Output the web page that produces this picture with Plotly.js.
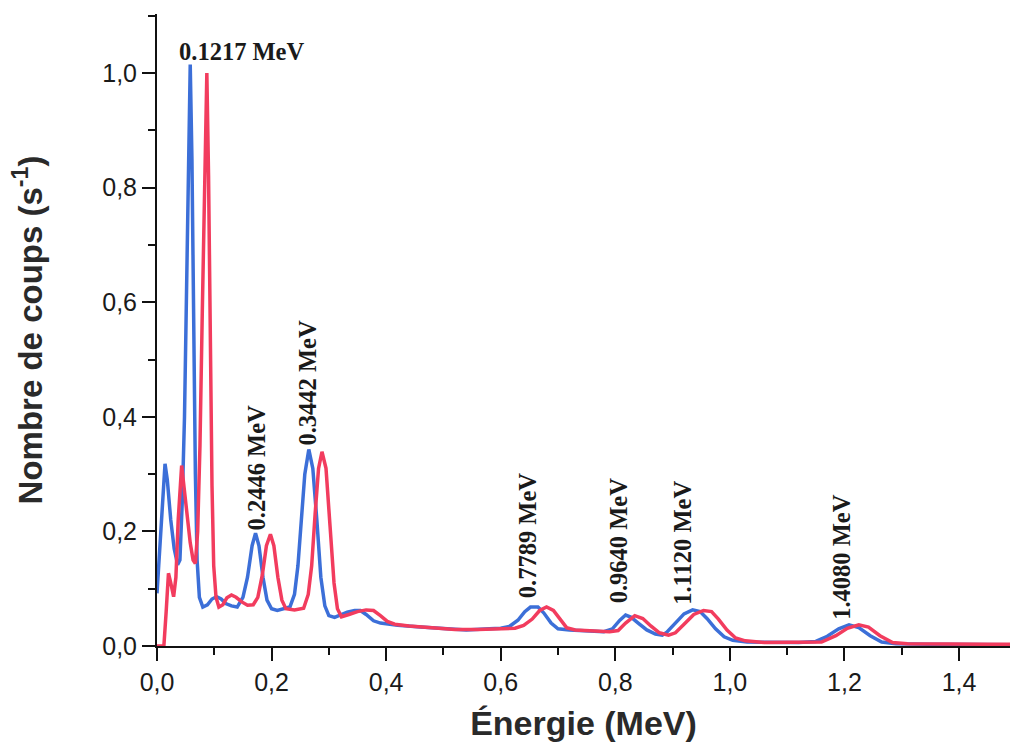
<!DOCTYPE html>
<html>
<head>
<meta charset="utf-8">
<script src="https://cdn.plot.ly/plotly-3.0.1.min.js"></script>
<style>html,body{margin:0;padding:0;background:#fff;}#chart{width:1011px;height:750px;}</style>
</head>
<body>
<div id="chart"></div>
<script>
// Energy (MeV) and count rate (s^-1) for the two spectra
const blueEnergy = [0.000,0.005,0.010,0.014,0.018,0.024,0.030,0.036,0.040,0.044,0.048,0.052,0.055,0.058,0.061,0.064,0.067,0.070,0.074,0.080,0.088,0.096,0.104,0.112,0.120,0.130,0.140,0.150,0.158,0.166,0.172,0.178,0.185,0.192,0.200,0.210,0.222,0.232,0.240,0.246,0.252,0.258,0.265,0.272,0.279,0.286,0.293,0.300,0.310,0.320,0.332,0.345,0.355,0.365,0.378,0.390,0.420,0.460,0.500,0.540,0.580,0.600,0.615,0.630,0.642,0.652,0.665,0.675,0.688,0.700,0.720,0.750,0.780,0.795,0.808,0.818,0.828,0.840,0.855,0.870,0.882,0.890,0.905,0.920,0.935,0.948,0.960,0.975,0.990,1.005,1.030,1.080,1.120,1.150,1.170,1.190,1.208,1.225,1.245,1.265,1.290,1.350,1.400,1.450,1.489];
const blueCounts = [0.092,0.170,0.270,0.318,0.290,0.220,0.170,0.142,0.150,0.250,0.400,0.620,0.850,1.015,0.850,0.550,0.300,0.150,0.085,0.068,0.072,0.082,0.086,0.082,0.074,0.070,0.068,0.085,0.120,0.175,0.197,0.175,0.120,0.080,0.065,0.062,0.066,0.068,0.090,0.140,0.220,0.300,0.343,0.310,0.220,0.120,0.070,0.053,0.050,0.054,0.059,0.062,0.062,0.055,0.044,0.040,0.036,0.033,0.030,0.028,0.030,0.031,0.034,0.045,0.060,0.068,0.068,0.058,0.040,0.030,0.028,0.026,0.025,0.030,0.045,0.054,0.050,0.040,0.028,0.021,0.019,0.024,0.040,0.056,0.063,0.060,0.048,0.030,0.016,0.010,0.007,0.006,0.006,0.008,0.017,0.030,0.037,0.032,0.018,0.007,0.004,0.003,0.003,0.002,0.002];

const redEnergy = [0.000,0.012,0.016,0.020,0.024,0.029,0.033,0.037,0.043,0.048,0.053,0.058,0.063,0.067,0.071,0.075,0.079,0.083,0.087,0.090,0.093,0.096,0.099,0.103,0.108,0.115,0.122,0.130,0.138,0.148,0.158,0.168,0.176,0.184,0.191,0.198,0.204,0.211,0.218,0.225,0.240,0.256,0.264,0.270,0.276,0.282,0.288,0.295,0.302,0.309,0.315,0.322,0.335,0.350,0.365,0.378,0.390,0.402,0.415,0.440,0.480,0.520,0.560,0.600,0.625,0.640,0.655,0.668,0.680,0.692,0.703,0.715,0.730,0.760,0.790,0.805,0.818,0.834,0.848,0.862,0.877,0.893,0.905,0.920,0.937,0.954,0.968,0.980,0.995,1.010,1.027,1.060,1.120,1.160,1.185,1.205,1.225,1.242,1.262,1.284,1.310,1.380,1.450,1.489];
const redCounts = [0.000,0.000,0.060,0.127,0.110,0.086,0.120,0.220,0.315,0.270,0.220,0.180,0.150,0.144,0.200,0.350,0.580,0.820,1.000,0.820,0.520,0.280,0.140,0.085,0.068,0.072,0.084,0.089,0.085,0.077,0.071,0.072,0.085,0.125,0.175,0.195,0.175,0.120,0.080,0.065,0.063,0.066,0.090,0.140,0.230,0.310,0.339,0.310,0.210,0.110,0.065,0.051,0.055,0.060,0.063,0.062,0.053,0.043,0.038,0.035,0.032,0.029,0.029,0.030,0.031,0.036,0.047,0.062,0.068,0.062,0.047,0.032,0.028,0.026,0.025,0.027,0.040,0.053,0.048,0.035,0.023,0.019,0.023,0.038,0.055,0.062,0.060,0.047,0.028,0.014,0.009,0.006,0.006,0.007,0.018,0.031,0.037,0.033,0.018,0.006,0.004,0.003,0.003,0.003];

// Peak labels
const peakLabels = ["0.1217 MeV","0.2446 MeV","0.3442 MeV","0.7789 MeV","0.9640 MeV","1.1120 MeV","1.4080 MeV"];
const peakLabelX = [0.148,0.174,0.261,0.648,0.805,0.918,1.195];
const peakLabelY = [1.037,0.311,0.459,0.192,0.183,0.180,0.155];
const peakLabelAngle = [0,-90,-90,-90,-90,-90,-90];

const xTickVals = [0,0.2,0.4,0.6,0.8,1.0,1.2,1.4];
const xTickText = ["0,0","0,2","0,4","0,6","0,8","1,0","1,2","1,4"];
const yTickVals = [0,0.2,0.4,0.6,0.8,1.0];
const yTickText = ["0,0","0,2","0,4","0,6","0,8","1,0"];

const traces = [
  {x: blueEnergy, y: blueCounts, type: 'scatter', mode: 'lines',
   line: {color: '#3c6fd8', width: 3.5}, hoverinfo: 'skip'},
  {x: redEnergy, y: redCounts, type: 'scatter', mode: 'lines',
   line: {color: '#f23c5e', width: 3.5}, hoverinfo: 'skip'}
];

const annotations = peakLabels.map((t, i) => ({
  text: '<b>' + t + '</b>', x: peakLabelX[i], y: peakLabelY[i], xref: 'x', yref: 'y',
  showarrow: false, textangle: peakLabelAngle[i],
  font: {family: 'Liberation Serif, Times New Roman, serif', size: 24.5, color: '#1a1a1a'}
}));

const layout = {
  width: 1011, height: 750,
  margin: {l: 157, r: 1, t: 14, b: 104},
  paper_bgcolor: '#fff', plot_bgcolor: '#fff',
  showlegend: false,
  xaxis: {
    range: [0, 1.489], showgrid: false, zeroline: false,
    showline: true, linecolor: '#111', linewidth: 2,
    ticks: 'outside', ticklen: 13, tickwidth: 2, tickcolor: '#111',
    tickvals: xTickVals, ticktext: xTickText,
    minor: {dtick: 0.1, tick0: 0, ticks: 'outside', ticklen: 7, tickwidth: 2, tickcolor: '#111'},
    tickfont: {family: 'Liberation Sans, Arial, sans-serif', size: 25, color: '#1a1a1a'},
    title: {text: '<b>Énergie (MeV)</b>', standoff: 16,
            font: {family: 'Liberation Sans, Arial, sans-serif', size: 34, color: '#2a2a2a'}},
    automargin: false
  },
  yaxis: {
    range: [0, 1.103], showgrid: false, zeroline: false,
    showline: true, linecolor: '#111', linewidth: 2,
    ticks: 'outside', ticklen: 13, tickwidth: 2, tickcolor: '#111',
    tickvals: yTickVals, ticktext: yTickText,
    minor: {dtick: 0.1, tick0: 0, ticks: 'outside', ticklen: 7, tickwidth: 2, tickcolor: '#111'},
    tickfont: {family: 'Liberation Sans, Arial, sans-serif', size: 25, color: '#1a1a1a'},
    title: {text: '<b>Nombre de coups (s<sup>-1</sup>)</b>', standoff: 50,
            font: {family: 'Liberation Sans, Arial, sans-serif', size: 33, color: '#2a2a2a'}},
    automargin: false
  },
  annotations: annotations
};

Plotly.newPlot('chart', traces, layout, {displayModeBar: false, staticPlot: true});
</script>
</body>
</html>
